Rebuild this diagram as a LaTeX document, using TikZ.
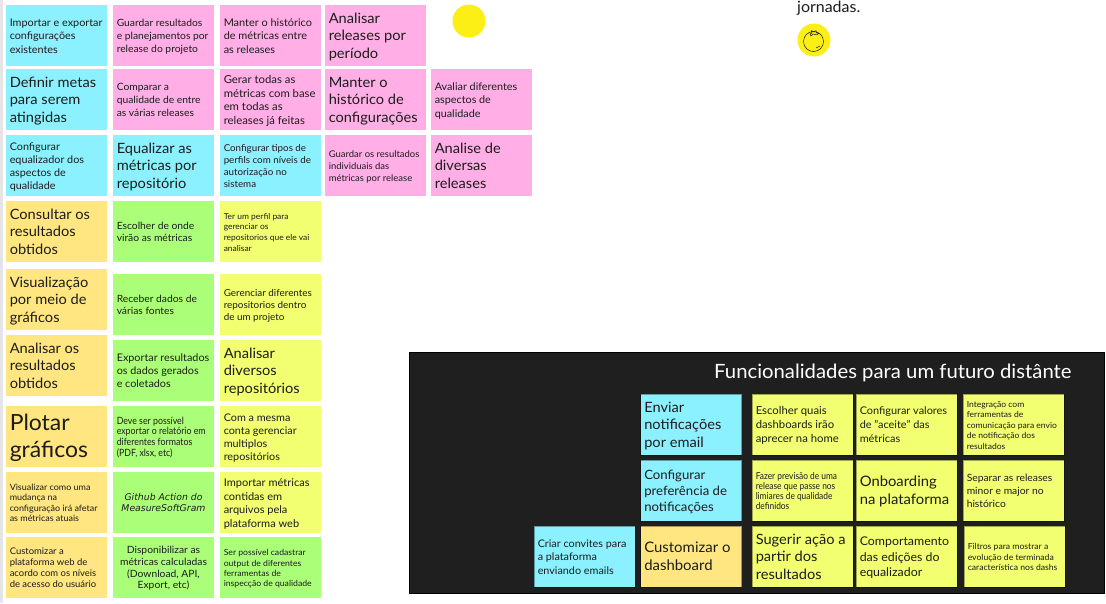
\documentclass[tikz,border=0pt]{standalone}
\usepackage{fontspec}
\setmainfont{Lato}[FakeStretch=1.03]
\newfontfamily\handfont{DejaVu Sans}[ItalicFont={DejaVu Sans Oblique}]
\newfontfamily\condfont{Lato}[FakeStretch=0.88]
\definecolor{cblue}{HTML}{8CF1FF}
\definecolor{cpink}{HTML}{FFAEE6}
\definecolor{cyel}{HTML}{F2FF70}
\definecolor{cora}{HTML}{FFE680}
\definecolor{cgre}{HTML}{ABFF78}
\definecolor{csun}{HTML}{FBEF15}
\definecolor{cpanel}{HTML}{1F1F1F}
\definecolor{cink}{HTML}{1C1C1C}
\tikzset{
  stickybox/.style={rectangle,draw=none,minimum width=101pt,minimum height=61pt,inner xsep=3.75pt,inner ysep=0pt,text=cink},
  sunspot/.style={circle,fill=csun,minimum size=33pt,inner sep=0pt},
}
% [l or c], name, left, top, colour, font size, leading, text
\newcommand\sticky[8][l]{\node[stickybox,fill=#5] (#2) at ({#3+50.5},{#4+30.5}) {\makebox[93.5pt][#1]{\fontsize{#6pt}{#7pt}\selectfont\raisebox{-1.6pt}[\height][\depth]{\begin{tabular}{@{}#1@{}}#8\end{tabular}}}};}
\begin{document}
\begin{tikzpicture}[x=1pt,y=-1pt]
\useasboundingbox (0,0) rectangle (1106,603);
\fill[white] (0,0) rectangle (1106,603);
\fill[gray!20] (0,0) rectangle (3,603);
% column 1
\sticky{a1}{6}{5}{cblue}{10.5}{13.5}{Importar e exportar\\configurações\\existentes}
\sticky{a2}{6}{69}{cblue}{14.2}{17.5}{Definir metas\\para serem\\atingidas}
\sticky{a3}{6}{135}{cblue}{10.5}{13}{Configurar\\equalizador dos\\aspectos de\\qualidade}
\sticky{a4}{6}{201}{cora}{14.2}{17.5}{Consultar os\\resultados\\obtidos}
\sticky{a5}{6}{269}{cora}{14.2}{17.5}{Visualização\\por meio de\\gráficos}
\sticky{a6}{6}{335}{cora}{14.2}{17.5}{Analisar os\\resultados\\obtidos}
\sticky{a7}{6}{406}{cora}{22.3}{27}{Plotar\\gráficos}
\sticky{a8}{6}{472}{cora}{8.7}{10.5}{Visualizar como uma\\mudança na\\configuração irá afetar\\as métricas atuais}
\sticky{a9}{6}{537}{cora}{9.2}{11}{Customizar a\\plataforma web de\\acordo com os níveis\\de acesso do usuário}
% column 2
\sticky{b1}{113}{5}{cpink}{10}{13}{Guardar resultados\\e planejamentos por\\release do projeto}
\sticky{b2}{113}{69}{cpink}{10}{13}{Comparar a\\qualidade de entre\\as várias releases}
\sticky{b3}{113}{135}{cblue}{14.2}{17.5}{Equalizar as\\métricas por\\repositório}
\sticky{b4}{113}{201}{cgre}{10}{12}{Escolher de onde\\virão as métricas}
\sticky{b5}{113}{274}{cgre}{10}{12}{Receber dados de\\várias fontes}
\sticky{b6}{113}{340}{cgre}{10.5}{13}{Exportar resultados\\os dados gerados\\e coletados}
\sticky{b7}{113}{406}{cgre}{10}{10.7}{\condfont Deve ser possível\\\condfont exportar o relatório em\\\condfont diferentes formatos\\\condfont (PDF, xlsx, etc)}
\sticky[c]{b8}{113}{472}{cgre}{9.3}{10.5}{\handfont\itshape Github Action do\\\handfont\itshape MeasureSoftGram}
\sticky[c]{b9}{113}{537}{cgre}{10}{11.7}{Disponibilizar as\\métricas calculadas\\(Download, API,\\Export, etc)}
% column 3
\sticky{c1}{220}{5}{cpink}{10.6}{13.5}{Manter o histórico\\de métricas entre\\as releases}
\sticky{c2}{220}{69}{cpink}{11}{13.5}{Gerar todas as\\métricas com base\\em todas as\\releases já feitas}
\sticky{c3}{220}{135}{cblue}{9.5}{12}{Configurar tipos de\\perfils com níveis de\\autorização no\\sistema}
\sticky{c4}{220}{201}{cyel}{8.2}{10.7}{Ter um perfil para\\gerenciar os\\repositorios que ele vai\\analisar}
\sticky{c5}{220}{274}{cyel}{9.6}{12}{Gerenciar diferentes\\repositorios dentro\\de um projeto}
\sticky{c6}{220}{340}{cyel}{14.2}{17.5}{Analisar\\diversos\\repositórios}
\sticky{c7}{220}{406}{cyel}{10.5}{13}{Com a mesma\\conta gerenciar\\multiplos\\repositórios}
\sticky{c8}{220}{472}{cyel}{10.7}{13.5}{Importar métricas\\contidas em\\arquivos pela\\plataforma web}
\sticky{c9}{220}{537}{cgre}{8.4}{10.3}{Ser possível cadastrar\\output de diferentes\\ferramentas de\\inspecção de qualidade}
% column 4 and 5
\sticky{d1}{325}{5}{cpink}{14.2}{17.5}{Analisar\\releases por\\período}
\sticky{d2}{325}{69}{cpink}{14.2}{17.5}{Manter o\\histórico de\\configurações}
\sticky{d3}{325}{135}{cpink}{9.2}{11.7}{Guardar os resultados\\individuais das\\métricas por release}
\sticky{e2}{431}{69}{cpink}{10.5}{13.5}{Avaliar diferentes\\aspectos de\\qualidade}
\sticky{e3}{431}{135}{cpink}{14.2}{17.5}{Analise de\\diversas\\releases}
% sun spots
\node[sunspot] (s1) at (469,21) {};
\node[sunspot] (s2) at (814,40) {};
\draw[cink,line width=.5pt] (813.5,41.5) circle (10);
\draw[cink,line width=.5pt,line join=round] (810,34) -- (812,33) -- (811,30.5) -- (814,32) -- (816,30.5) -- (816.5,33) -- (819,33) -- (817,35) -- (813,34) -- (811,36) -- cycle;
\draw[cink,line width=.5pt] (816,48) -- (820,46);
\node[anchor=base west,inner sep=0pt,text=cink,font=\fontsize{15.5}{18}\selectfont] (jn) at (797,12.5) {jornadas.};
% dark panel
\node[rectangle,fill=cpanel,draw=black,line width=.8pt,minimum width=695pt,minimum height=241pt,inner sep=0pt] (panel) at (756.5,472.5) {};
\node[anchor=base west,inner sep=0pt,text=white,font=\fontsize{19.7}{22}\selectfont] (title) at (714,378) {Funcionalidades para um futuro distânte};
\begin{scope}[stickybox/.append style={draw=black,draw opacity=.35,line width=.6pt}]
\sticky{p1}{640.5}{394}{cblue}{14.2}{17.5}{Enviar\\notificações\\por email}
\sticky{p2}{640.5}{460}{cblue}{12.8}{16}{Configurar\\preferência de\\notificações}
\sticky{p3}{640.5}{526}{cora}{14.5}{17.5}{Customizar o\\dashboard}
\sticky{p0}{534}{526}{cblue}{10.5}{13.5}{Criar convites para\\a plataforma\\enviando emails}
\sticky{q1}{752}{394}{cyel}{11}{14}{Escolher quais\\dashboards irão\\aprecer na home}
\sticky{q2}{752}{460}{cyel}{9.5}{10}{\condfont Fazer previsão de uma\\\condfont release que passe nos\\\condfont limiares de qualidade\\\condfont definidos}
\sticky{q3}{752}{526}{cyel}{14.2}{17.5}{Sugerir ação a\\partir dos\\resultados}
\sticky{r1}{856}{394}{cyel}{10.6}{14}{Configurar valores\\de "aceite" das\\métricas}
\sticky{r2}{856}{460}{cyel}{14.4}{17.5}{Onboarding\\na plataforma}
\sticky{r3}{856}{526}{cyel}{12}{15.5}{Comportamento\\das edições do\\equalizador}
\sticky{t1}{963}{394}{cyel}{8.3}{10.5}{Integração com\\ferramentas de\\comunicação para envio\\de notificação dos\\resultados}
\sticky{t2}{963}{460}{cyel}{10}{13}{Separar as releases\\minor e major no\\histórico}
\sticky{t3}{964}{526}{cyel}{8.4}{10.5}{Filtros para mostrar a\\evolução de terminada\\característica nos dashs}
\end{scope}
\end{tikzpicture}
\end{document}
